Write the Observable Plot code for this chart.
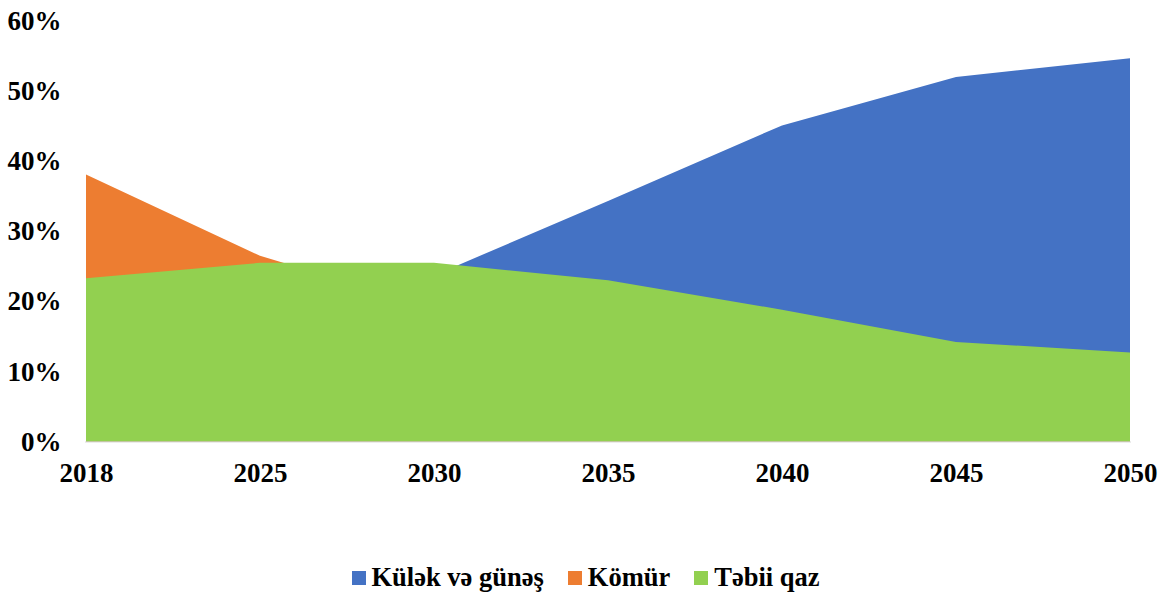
<!DOCTYPE html>
<html>
<head>
<meta charset="utf-8">
<script src="https://cdn.jsdelivr.net/npm/d3@7"></script>
<script src="https://cdn.jsdelivr.net/npm/@observablehq/plot@0.6"></script>
<style>
  body { margin: 0; background: #fff; font-family: "Liberation Serif", "Times New Roman", serif; }
  #chart svg { display: block; }
  .legend { display: flex; justify-content: center; align-items: center; margin-top: 62px; margin-left: 3px;
            font-family: "Liberation Serif", serif; font-weight: bold; font-size: 26.5px; color: #000; }
  .legend .item { display: flex; align-items: center; margin: 0 12px; }
  .legend .sw { width: 14px; height: 14px; margin-right: 6px; }
</style>
</head>
<body>
<div id="chart"></div>
<script>
const years = ["2018", "2025", "2030", "2035", "2040", "2045", "2050"];
const windSolar = [5, 14, 23.7, 34.3, 45.1, 52.0, 54.7];
const coal = [38.1, 26.5, 19, 14, 9, 5, 3];
const gas = [23.3, 25.5, 25.5, 23.0, 18.8, 14.2, 12.7];
const yTicks = [0, 10, 20, 30, 40, 50, 60];

const seriesNames = ["Külək və günəş", "Kömür", "Təbii qaz"];
const seriesColors = ["#4472C4", "#ED7D31", "#92D050"];
const seriesValues = [windSolar, coal, gas];

const rows = s => years.map((y, i) => ({ year: y, value: seriesValues[s][i] }));

const plot = Plot.plot({
  width: 1168,
  height: 500,
  marginTop: 21,
  marginBottom: 58.5,
  marginLeft: 85,
  marginRight: 37,
  style: { fontFamily: "Liberation Serif, serif", fontWeight: "bold", fontSize: "27px", color: "#000" },
  x: { type: "point", domain: years, padding: 0, label: null },
  y: { domain: [0, 60], label: null },
  marks: [
    Plot.areaY(rows(0), { x: "year", y: "value", fill: seriesColors[0] }),
    Plot.areaY(rows(1), { x: "year", y: "value", fill: seriesColors[1] }),
    Plot.areaY(rows(2), { x: "year", y: "value", fill: seriesColors[2] }),
    Plot.ruleY([0], { stroke: "#d9d9d9", strokeWidth: 1 }),
    Plot.axisX({ tickSize: 0, tickPadding: 21, fontSize: 27, fontWeight: "bold", label: null }),
    Plot.axisY({ ticks: yTicks, tickSize: 0, tickPadding: 24, fontSize: 27, fontWeight: "bold",
                 tickFormat: d => d + "%", label: null })
  ]
});
document.getElementById("chart").appendChild(plot);

const legend = document.createElement("div");
legend.className = "legend";
seriesNames.forEach((n, i) => {
  const it = document.createElement("div");
  it.className = "item";
  const sw = document.createElement("span");
  sw.className = "sw";
  sw.style.background = seriesColors[i];
  const tx = document.createElement("span");
  tx.textContent = n;
  it.appendChild(sw); it.appendChild(tx);
  legend.appendChild(it);
});
document.body.appendChild(legend);
</script>
</body>
</html>
